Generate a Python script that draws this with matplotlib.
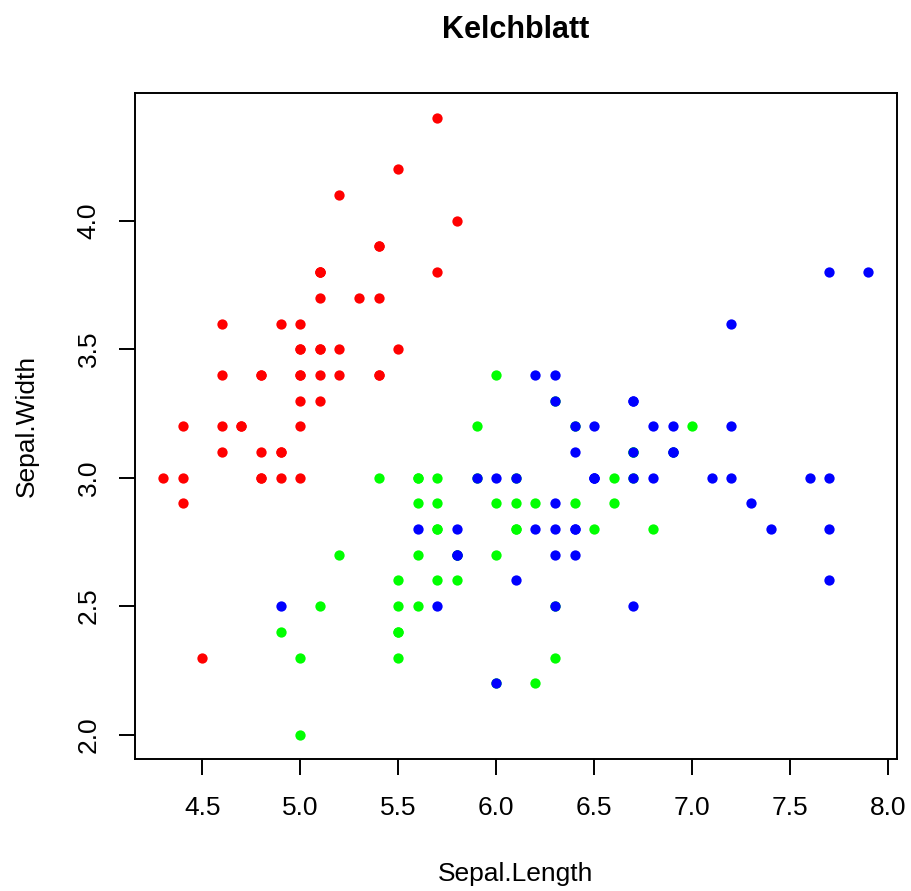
import matplotlib.pyplot as plt

plt.rcParams['font.family'] = ['Liberation Sans', 'DejaVu Sans']

# iris: setosa / versicolor / virginica
setosa_len = [5.1, 4.9, 4.7, 4.6, 5.0, 5.4, 4.6, 5.0, 4.4, 4.9, 5.4, 4.8, 4.8, 4.3, 5.8, 5.7, 5.4, 5.1, 5.7, 5.1,
              5.4, 5.1, 4.6, 5.1, 4.8, 5.0, 5.0, 5.2, 5.2, 4.7, 4.8, 5.4, 5.2, 5.5, 4.9, 5.0, 5.5, 4.9, 4.4, 5.1,
              5.0, 4.5, 4.4, 5.0, 5.1, 4.8, 5.1, 4.6, 5.3, 5.0]
setosa_wid = [3.5, 3.0, 3.2, 3.1, 3.6, 3.9, 3.4, 3.4, 2.9, 3.1, 3.7, 3.4, 3.0, 3.0, 4.0, 4.4, 3.9, 3.5, 3.8, 3.8,
              3.4, 3.7, 3.6, 3.3, 3.4, 3.0, 3.4, 3.5, 3.4, 3.2, 3.1, 3.4, 4.1, 4.2, 3.1, 3.2, 3.5, 3.6, 3.0, 3.4,
              3.5, 2.3, 3.2, 3.5, 3.8, 3.0, 3.8, 3.2, 3.7, 3.3]
versicolor_len = [7.0, 6.4, 6.9, 5.5, 6.5, 5.7, 6.3, 4.9, 6.6, 5.2, 5.0, 5.9, 6.0, 6.1, 5.6, 6.7, 5.6, 5.8, 6.2, 5.6,
                  5.9, 6.1, 6.3, 6.1, 6.4, 6.6, 6.8, 6.7, 6.0, 5.7, 5.5, 5.5, 5.8, 6.0, 5.4, 6.0, 6.7, 6.3, 5.6, 5.5,
                  5.5, 6.1, 5.8, 5.0, 5.6, 5.7, 5.7, 6.2, 5.1, 5.7]
versicolor_wid = [3.2, 3.2, 3.1, 2.3, 2.8, 2.8, 3.3, 2.4, 2.9, 2.7, 2.0, 3.0, 2.2, 2.9, 2.9, 3.1, 3.0, 2.7, 2.2, 2.5,
                  3.2, 2.8, 2.5, 2.8, 2.9, 3.0, 2.8, 3.0, 2.9, 2.6, 2.4, 2.4, 2.7, 2.7, 3.0, 3.4, 3.1, 2.3, 3.0, 2.5,
                  2.6, 3.0, 2.6, 2.3, 2.7, 3.0, 2.9, 2.9, 2.5, 2.8]
virginica_len = [6.3, 5.8, 7.1, 6.3, 6.5, 7.6, 4.9, 7.3, 6.7, 7.2, 6.5, 6.4, 6.8, 5.7, 5.8, 6.4, 6.5, 7.7, 7.7, 6.0,
                 6.9, 5.6, 7.7, 6.3, 6.7, 7.2, 6.2, 6.1, 6.4, 7.2, 7.4, 7.9, 6.4, 6.3, 6.1, 7.7, 6.3, 6.4, 6.0, 6.9,
                 6.7, 6.9, 5.8, 6.8, 6.7, 6.7, 6.3, 6.5, 6.2, 5.9]
virginica_wid = [3.3, 2.7, 3.0, 2.9, 3.0, 3.0, 2.5, 2.9, 2.5, 3.6, 3.2, 2.7, 3.0, 2.5, 2.8, 3.2, 3.0, 3.8, 2.6, 2.2,
                 3.2, 2.8, 2.8, 2.7, 3.3, 3.2, 2.8, 3.0, 2.8, 3.0, 2.8, 3.8, 2.8, 2.8, 2.6, 3.0, 3.4, 3.1, 3.0, 3.1,
                 3.1, 3.1, 2.7, 3.2, 3.3, 3.0, 2.5, 3.0, 3.4, 3.0]

x_ticks = [4.5, 5.0, 5.5, 6.0, 6.5, 7.0, 7.5, 8.0]
y_ticks = [2.0, 2.5, 3.0, 3.5, 4.0]

fig = plt.figure(figsize=(9.11, 8.91), dpi=100)
ax = fig.add_axes([0.148, 0.1478, 0.8363, 0.7475])

ax.scatter(setosa_len, setosa_wid, s=55, color='#FF0000', linewidths=0)
ax.scatter(versicolor_len, versicolor_wid, s=55, color='#00FF00', linewidths=0)
ax.scatter(virginica_len, virginica_wid, s=55, color='#0000FF', linewidths=0)

# R-style 4% axis padding
ax.set_xlim(4.3 - 0.144, 7.9 + 0.144)
ax.set_ylim(2.0 - 0.096, 4.4 + 0.096)
ax.set_xticks(x_ticks)
ax.set_xticklabels([f'{v:.1f}' for v in x_ticks])
ax.set_yticks(y_ticks)
ax.set_yticklabels([f'{v:.1f}' for v in y_ticks], rotation=90, va='center')

for sp in ax.spines.values():
    sp.set_linewidth(1.4)
ax.tick_params(length=11.5, width=1.4, labelsize=19)
ax.tick_params(axis='x', pad=15)
ax.tick_params(axis='y', pad=13)

ax.set_xlabel('Sepal.Length', fontsize=19, labelpad=30)
ax.set_ylabel('Sepal.Width', fontsize=19, labelpad=27)
ax.set_title('Kelchblatt', fontsize=22, fontweight='bold', pad=39.6)

fig.savefig('out.png', dpi=100)
